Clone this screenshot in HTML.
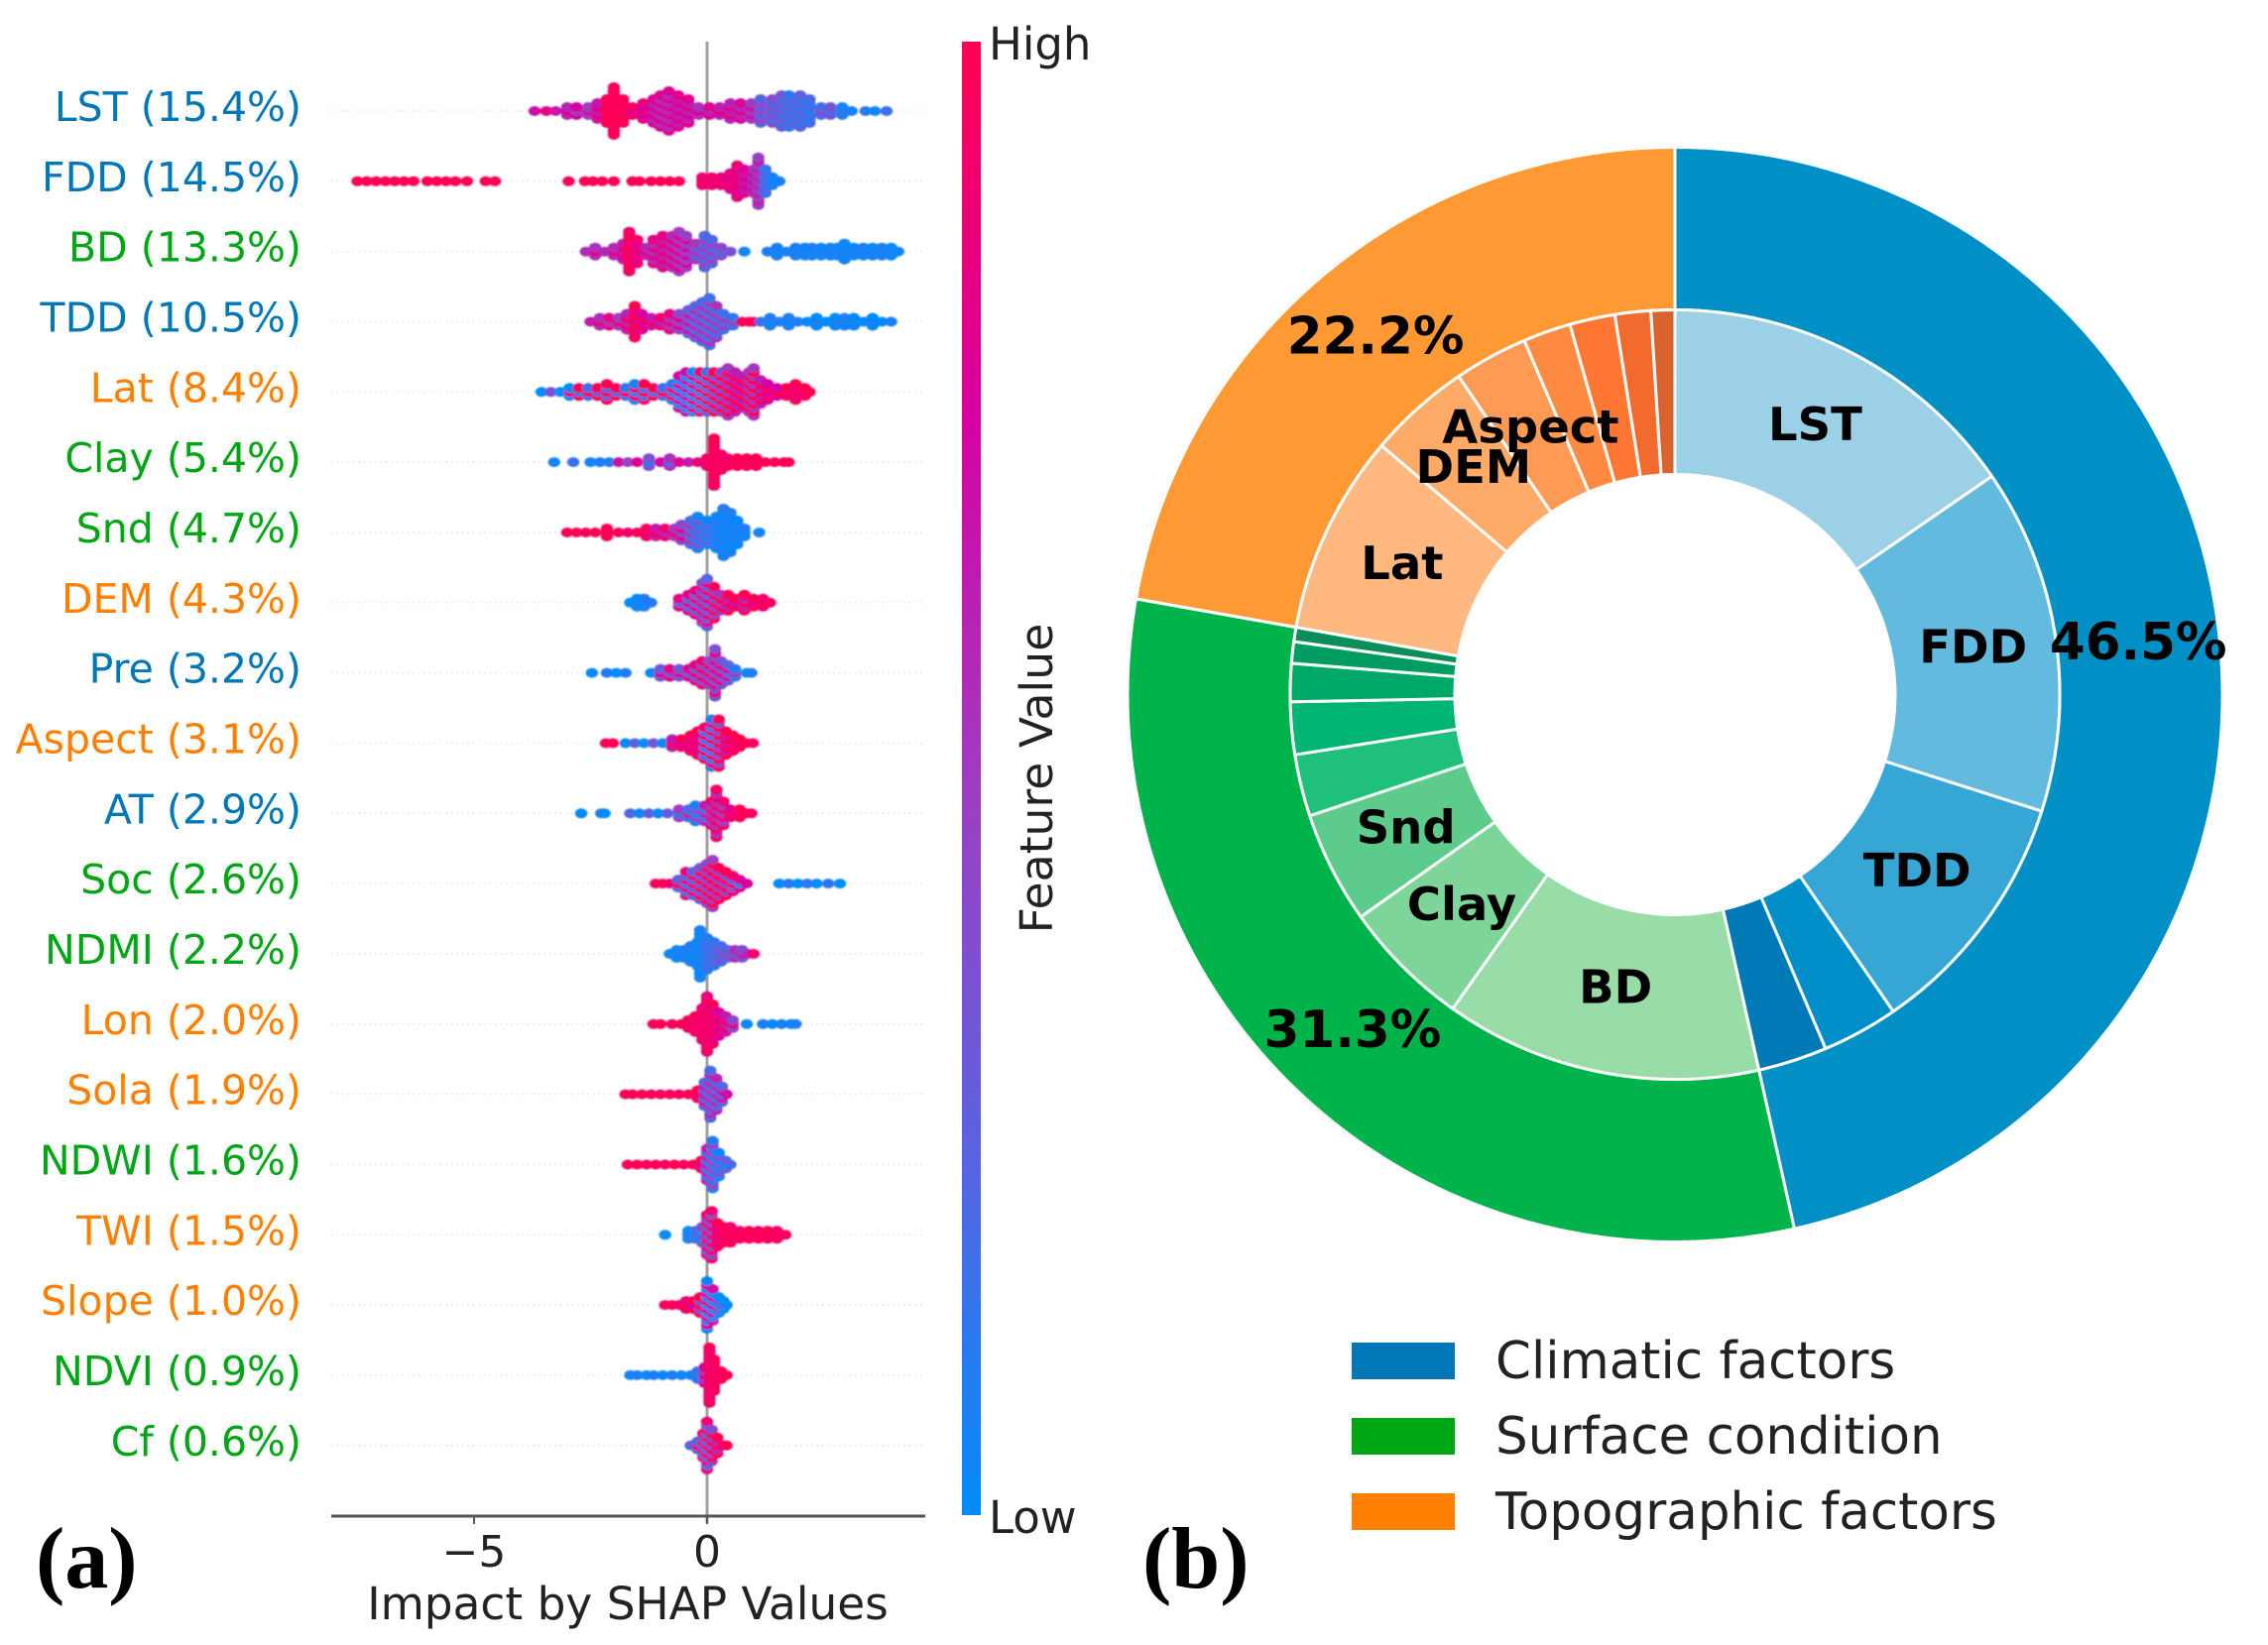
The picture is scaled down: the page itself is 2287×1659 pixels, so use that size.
<!DOCTYPE html>
<html lang="en">
<head>
<meta charset="utf-8">
<title>SHAP feature impact and factor share</title>
<style>
html,body{margin:0;padding:0;background:#fff;}
svg{display:block;}
text{font-family:"DejaVu Sans","Liberation Sans",sans-serif;}
.panel{font-family:"Liberation Serif",serif;font-weight:bold;font-size:88px;fill:#000;}
</style>
</head>
<body>
<svg id="figure" xmlns="http://www.w3.org/2000/svg" width="2287" height="1659" viewBox="0 0 2287 1659">
  <rect x="0" y="0" width="2287" height="1659" fill="#ffffff"/>
  <defs>
    <linearGradient id="cbGrad" x1="0" y1="1" x2="0" y2="0">
      <stop offset="0" stop-color="#008bfb"/>
      <stop offset="0.25" stop-color="#5a62e0"/>
      <stop offset="0.5" stop-color="#a03cc0"/>
      <stop offset="0.75" stop-color="#d800a0"/>
      <stop offset="1" stop-color="#ff0051"/>
    </linearGradient>
    <filter id="soft" x="-5%" y="-5%" width="110%" height="110%"><feGaussianBlur stdDeviation="0.7"/></filter>
  </defs>
  <g id="gridLayer"></g>
  <line x1="713" y1="42" x2="713" y2="1536" stroke="#a0a0a0" stroke-width="3"/>
  <g id="swarmLayer" filter="url(#soft)"></g>
  <g id="labelLayer"></g>
  <g id="axisLayer">
    <line x1="334" y1="1529" x2="933" y2="1529" stroke="#555555" stroke-width="3"/>
  </g>
  <text x="633" y="1633" text-anchor="middle" font-size="45.4" fill="#222">Impact by SHAP Values</text>
  <rect x="970" y="42" width="19" height="1486" fill="url(#cbGrad)"/>
  <text x="997" y="60" font-size="45" fill="#222">High</text>
  <text x="997" y="1546" font-size="45" fill="#222">Low</text>
  <text transform="translate(1061,785) rotate(-90)" text-anchor="middle" font-size="45.7" fill="#222">Feature Value</text>
  <text class="panel" x="36" y="1601">(a)</text>
  <text class="panel" x="1152" y="1601">(b)</text>
  <g id="donutLayer"></g>
  <g>
    <rect x="1363" y="1354" width="104" height="37" fill="#0077b6"/>
    <text x="1508" y="1390" font-size="51.5" fill="#222">Climatic factors</text>
    <rect x="1363" y="1430" width="104" height="37" fill="#00a614"/>
    <text x="1508" y="1466" font-size="51.5" fill="#222">Surface condition</text>
    <rect x="1363" y="1506" width="104" height="37" fill="#ff8000"/>
    <text x="1508" y="1542" font-size="51.5" fill="#222">Topographic factors</text>
  </g>
</svg>
<script>
// ---------- panel (a) data: per feature SHAP columns, stack depth and feature value tone ----------
const featureNames = ["LST","FDD","BD","TDD","Lat","Clay","Snd","DEM","Pre","Aspect","AT","Soc","NDMI","Lon","Sola","NDWI","TWI","Slope","NDVI","Cf"];
const featureShares = [15.4,14.5,13.3,10.5,8.4,5.4,4.7,4.3,3.2,3.1,2.9,2.6,2.2,2.0,1.9,1.6,1.5,1.0,0.9,0.6];
const featureGroups = ["c","c","s","c","t","s","s","t","c","t","c","s","s","t","t","s","t","t","s","s"];
const toneMix = [0.12,0.08,0.15,0.2,0.45,0.15,0.2,0.3,0.25,0.4,0.25,0.35,0.12,0.2,0.2,0.25,0.3,0.4,0.15,0.35];

const lstShap = [-3.7,-3.45,-3.25,-3,-2.8,-2.55,-2.35,-2.15,-2,-1.8,-1.6,-1.37,-1.15,-1,-0.82,-0.62,-0.4,-0.18,0.05,0.27,0.5,0.72,0.95,1.15,1.4,1.6,1.76,2,2.2,2.45,2.65,2.9,3.1,3.4,3.6,3.85];
const lstStack = [0,0,0,1,1,1,2,3,6,3,1,2,3,4,5,4,3,1,1,1,2,2,2,3,3,4,4,4,3,1,1,1,0,0,0,0];
const lstTone = [0.78,0.78,0.75,0.7,0.62,0.6,0.75,0.98,0.98,0.98,0.85,0.8,0.7,0.68,0.68,0.72,0.7,0.65,0.7,0.72,0.7,0.68,0.6,0.35,0.3,0.25,0.2,0.2,0.15,0.3,0.25,0.1,0.1,0.08,0.1,0.12];

const fddShap = [-7.5,-7.3,-7.1,-6.9,-6.7,-6.5,-6.3,-6,-5.8,-5.6,-5.4,-5.15,-4.75,-4.55,-2.97,-2.62,-2.45,-2.25,-2,-1.6,-1.45,-1.2,-1,-0.8,-0.6,-0.1,0.1,0.3,0.5,0.65,0.8,1,1.1,1.25,1.4,1.55];
const fddStack = [0,0,0,0,0,0,0,0,0,0,0,0,0,0,0,0,0,0,0,0,0,0,0,0,0,1,1,1,2,4,3,3,6,3,1,0];
const fddTone = [0.98,0.98,0.98,0.98,0.98,0.98,0.98,0.98,0.98,0.98,0.98,0.98,0.98,0.98,0.98,0.98,0.98,0.98,0.98,0.98,0.98,0.98,0.98,0.98,0.98,0.92,0.9,0.9,0.85,0.85,0.72,0.62,0.55,0.2,0.05,0.05];

const bdShap = [-2.6,-2.4,-2.2,-2,-1.8,-1.67,-1.5,-1.3,-1.15,-0.95,-0.75,-0.6,-0.45,-0.25,-0.05,0.1,0.3,0.5,0.8,1.3,1.5,1.7,1.9,2.1,2.25,2.45,2.65,2.8,2.95,3.15,3.35,3.55,3.75,3.95,4.1];
const bdStack = [0,1,0,1,2,5,3,1,3,4,4,5,4,2,4,3,1,0,0,0,1,0,1,1,1,1,1,1,2,1,1,1,1,1,0];
const bdTone = [0.7,0.68,0.7,0.7,0.75,0.95,0.85,0.7,0.7,0.75,0.7,0.65,0.6,0.4,0.35,0.35,0.3,0.25,0.05,0.05,0.05,0.05,0.05,0.05,0.05,0.05,0.05,0.05,0.05,0.05,0.05,0.05,0.05,0.05,0.05];

const tddShap = [-2.5,-2.3,-2.1,-1.9,-1.72,-1.55,-1.4,-1.2,-1,-0.8,-0.6,-0.4,-0.25,-0.1,0.05,0.2,0.35,0.55,0.75,0.9,1,1.15,1.35,1.55,1.75,1.95,2.15,2.35,2.55,2.75,2.95,3.15,3.35,3.55,3.75,3.95];
const tddStack = [0,1,1,1,2,4,2,1,1,2,2,3,4,5,6,4,2,1,0,0,0,0,1,0,1,0,0,1,0,1,1,1,0,1,0,0];
const tddTone = [0.78,0.72,0.68,0.68,0.75,0.95,0.85,0.8,0.75,0.7,0.6,0.45,0.4,0.38,0.35,0.35,0.35,0.3,0.98,0.98,0.98,0.1,0.05,0.05,0.05,0.05,0.05,0.05,0.05,0.05,0.05,0.05,0.05,0.05,0.05,0.05];

const latShap = [-3.55,-3.35,-3.15,-2.95,-2.75,-2.55,-2.35,-2.15,-1.95,-1.75,-1.55,-1.35,-1.15,-0.95,-0.75,-0.6,-0.45,-0.3,-0.15,0,0.15,0.3,0.45,0.6,0.75,0.9,1,1.15,1.3,1.5,1.7,1.9,2.1,2.2];
const latStack = [0,0,0,1,1,1,1,2,1,1,2,2,1,1,2,4,5,5,5,5,5,5,6,5,4,5,6,3,2,1,1,2,1,0];
const latTone = [0.1,0.15,0.3,0.45,0.55,0.6,0.65,0.62,0.6,0.55,0.5,0.55,0.6,0.6,0.55,0.35,0.3,0.4,0.5,0.6,0.7,0.75,0.8,0.85,0.85,0.8,0.8,0.85,0.9,0.9,0.95,0.95,0.95,0.98];

const clayShap = [-3.28,-2.87,-2.5,-2.3,-2.1,-1.9,-1.7,-1.5,-1.25,-1,-0.8,-0.6,-0.4,-0.2,0,0.15,0.3,0.45,0.65,0.85,1.05,1.25,1.45,1.65,1.75];
const clayStack = [0,0,0,0,0,0,0,0,1,0,1,0,0,0,1,6,2,1,1,1,1,0,0,0,0];
const clayTone = [0.05,0.1,0.05,0.05,0.15,0.55,0.6,0.65,0.25,0.6,0.4,0.7,0.75,0.8,0.9,0.96,0.96,0.95,0.97,0.97,0.97,0.97,0.98,0.98,0.98];

const sndShap = [-3,-2.8,-2.6,-2.4,-2.15,-1.9,-1.7,-1.5,-1.3,-1.1,-0.9,-0.7,-0.55,-0.35,-0.2,0,0.2,0.35,0.5,0.65,0.8,1.12];
const sndStack = [0,0,0,0,1,0,0,0,1,1,1,1,2,3,4,3,4,6,5,3,1,0];
const sndTone = [0.98,0.98,0.98,0.98,0.98,0.98,0.95,0.95,0.9,0.8,0.75,0.7,0.6,0.35,0.2,0.15,0.08,0.05,0.05,0.05,0.05,0.03];

const demShap = [-1.65,-1.5,-1.35,-1.2,-0.6,-0.4,-0.25,-0.1,0,0.15,0.3,0.45,0.6,0.8,1,1.2,1.35];
const demStack = [0,1,1,0,1,2,3,5,6,4,2,2,1,2,1,1,0];
const demTone = [0.05,0.05,0.05,0.05,0.55,0.5,0.55,0.6,0.55,0.7,0.75,0.8,0.85,0.8,0.9,0.95,0.98];

const preShap = [-2.47,-2.15,-1.95,-1.75,-1.2,-1,-0.8,-0.6,-0.4,-0.25,-0.1,0.05,0.17,0.3,0.45,0.6,0.85,0.95];
const preStack = [0,0,0,0,0,1,1,1,1,2,3,3,6,3,2,1,0,0];
const preTone = [0.05,0.05,0.05,0.05,0.05,0.55,0.6,0.55,0.55,0.6,0.65,0.65,0.6,0.6,0.5,0.3,0.08,0.05];

const aspectShap = [-2.17,-2.02,-1.75,-1.55,-1.35,-1.15,-0.95,-0.75,-0.55,-0.35,-0.2,-0.05,0.1,0.25,0.4,0.55,0.7,0.85,0.98];
const aspectStack = [0,0,0,0,0,0,0,1,1,2,3,4,6,6,3,2,1,0,0];
const aspectTone = [0.98,0.98,0.1,0.1,0.12,0.15,0.25,0.85,0.9,0.9,0.9,0.5,0.5,0.7,0.85,0.95,0.95,0.97,0.98];

const atShap = [-2.7,-2.27,-2.2,-1.65,-1.45,-1.25,-1.05,-0.85,-0.6,-0.4,-0.25,-0.05,0.1,0.2,0.35,0.5,0.7,0.85,0.95];
const atStack = [0,0,0,0,0,0,0,0,1,1,2,2,3,6,3,1,1,0,0];
const atTone = [0.05,0.05,0.05,0.12,0.15,0.15,0.12,0.15,0.3,0.4,0.25,0.4,0.7,0.75,0.7,0.9,0.95,0.97,0.98];

const socShap = [-1.1,-0.95,-0.8,-0.62,-0.45,-0.3,-0.15,0,0.12,0.25,0.4,0.55,0.7,0.85,1.55,1.75,1.95,2.15,2.35,2.6,2.85];
const socStack = [0,0,0,1,3,3,4,5,6,4,3,2,1,0,0,0,0,0,0,0,0];
const socTone = [0.98,0.98,0.95,0.6,0.5,0.55,0.65,0.7,0.75,0.75,0.7,0.6,0.45,0.4,0.05,0.05,0.05,0.05,0.05,0.05,0.05];

const ndmiShap = [-0.8,-0.65,-0.5,-0.35,-0.2,-0.15,0,0.15,0.3,0.45,0.6,0.75,0.9,1];
const ndmiStack = [0,1,1,2,3,6,4,3,2,1,1,1,0,0];
const ndmiTone = [0.05,0.05,0.05,0.05,0.05,0.04,0.15,0.2,0.3,0.35,0.45,0.5,0.7,0.85];

const lonShap = [-1.15,-1,-0.75,-0.55,-0.4,-0.25,-0.1,0,0.12,0.25,0.4,0.55,0.85,1.2,1.4,1.6,1.8,1.9];
const lonStack = [0,0,0,0,1,2,4,7,5,3,2,1,0,0,0,0,0,0];
const lonTone = [0.97,0.97,0.97,0.95,0.95,0.93,0.92,0.93,0.9,0.85,0.8,0.6,0.08,0.05,0.05,0.05,0.05,0.05];

const solaShap = [-1.75,-1.6,-1.4,-1.2,-1,-0.8,-0.6,-0.4,-0.2,-0.05,0.07,0.2,0.32,0.42];
const solaStack = [0,0,0,0,0,0,0,0,1,3,6,4,2,0];
const solaTone = [0.98,0.98,0.98,0.97,0.97,0.97,0.97,0.97,0.95,0.45,0.4,0.4,0.45,0.5];

const ndwiShap = [-1.7,-1.5,-1.3,-1.1,-0.9,-0.7,-0.5,-0.3,-0.12,0,0.12,0.25,0.4,0.5];
const ndwiStack = [0,0,0,0,0,0,0,0,1,4,6,3,1,0];
const ndwiTone = [0.98,0.98,0.97,0.97,0.97,0.97,0.97,0.95,0.85,0.4,0.3,0.2,0.15,0.1];

const twiShap = [-0.9,-0.4,-0.25,-0.1,0,0.1,0.22,0.35,0.5,0.7,0.9,1.1,1.3,1.5,1.68];
const twiStack = [0,1,1,2,5,6,3,2,2,1,1,1,1,1,0];
const twiTone = [0.05,0.08,0.1,0.2,0.6,0.65,0.9,0.95,0.97,0.97,0.97,0.97,0.97,0.97,0.98];

const slopeShap = [-0.9,-0.75,-0.6,-0.45,-0.3,-0.15,0,0.12,0.25,0.35,0.42];
const slopeStack = [0,0,0,1,1,2,6,4,2,1,0];
const slopeTone = [0.98,0.97,0.97,0.95,0.9,0.7,0.4,0.35,0.2,0.15,0.1];

const ndviShap = [-1.65,-1.5,-1.3,-1.15,-0.95,-0.75,-0.55,-0.35,-0.2,-0.05,0.05,0.15,0.3,0.42];
const ndviStack = [0,0,0,0,0,0,0,0,1,2,7,4,1,0];
const ndviTone = [0.05,0.05,0.05,0.05,0.05,0.05,0.05,0.05,0.1,0.6,0.92,0.95,0.95,0.97];

const cfShap = [-0.35,-0.2,-0.08,0,0.1,0.22,0.35,0.42];
const cfStack = [0,1,3,6,4,2,0,0];
const cfTone = [0.6,0.55,0.6,0.55,0.7,0.8,0.95,0.97];

const rowShap = [lstShap,fddShap,bdShap,tddShap,latShap,clayShap,sndShap,demShap,preShap,aspectShap,atShap,socShap,ndmiShap,lonShap,solaShap,ndwiShap,twiShap,slopeShap,ndviShap,cfShap];
const rowStack = [lstStack,fddStack,bdStack,tddStack,latStack,clayStack,sndStack,demStack,preStack,aspectStack,atStack,socStack,ndmiStack,lonStack,solaStack,ndwiStack,twiStack,slopeStack,ndviStack,cfStack];
const rowTone = [lstTone,fddTone,bdTone,tddTone,latTone,clayTone,sndTone,demTone,preTone,aspectTone,atTone,socTone,ndmiTone,lonTone,solaTone,ndwiTone,twiTone,slopeTone,ndviTone,cfTone];

const xTickValues = [-5,0];
const xTickLabels = ["\u22125","0"];

// ---------- panel (b) data ----------
const outerNames = ["Climatic","Surface","Topographic"];
const outerShares = [46.5,31.3,22.2];
const outerColors = ["#0090c6","#00b34a","#ff9933"];
const innerNames = ["LST","FDD","TDD","Pre","AT","BD","Clay","Snd","Soc","NDMI","NDWI","NDVI","Cf","Lat","DEM","Aspect","Lon","Sola","TWI","Slope"];
const innerShares = [15.4,14.5,10.5,3.2,2.9,13.3,5.4,4.7,2.6,2.2,1.6,0.9,0.6,8.4,4.3,3.1,2.0,1.9,1.5,1.0];
const innerColors = ["#9bd0e6","#62bade","#36a6d4","#008ec8","#0079b7","#98dca8","#7dd59a","#5ccb8c","#1fc07c","#00b574","#00a868","#009c60","#0a8f5a","#ffb880","#ffaa66","#ff9a55","#ff8a42","#ff7733","#f26a2e","#d9622e"];
const innerLabelled = ["LST","FDD","TDD","BD","Clay","Snd","Lat","DEM","Aspect"];

// ---------- scales ----------
const NS = "http://www.w3.org/2000/svg";
function xScale(v){ return 713 + 47 * v; }
function rowY(i){ return 112 + 70.83 * i; }
const toneStops = [[0,[0,139,251]],[0.25,[90,98,224]],[0.5,[160,60,192]],[0.75,[216,0,160]],[1,[255,0,81]]];
function toneColor(t){
  t = Math.max(0, Math.min(1, t));
  for (let k = 1; k < toneStops.length; k++) {
    if (t <= toneStops[k][0]) {
      const a = toneStops[k-1], b = toneStops[k];
      const f = (t - a[0]) / (b[0] - a[0]);
      const c = a[1].map((q, j) => Math.round(q + (b[1][j] - q) * f));
      return "rgb(" + c.join(",") + ")";
    }
  }
  return "rgb(255,0,81)";
}
const groupColor = { c: "#0077b6", s: "#00a614", t: "#ff8000" };

// ---------- draw panel (a) ----------
const gridLayer = document.getElementById("gridLayer");
const swarmLayer = document.getElementById("swarmLayer");
const labelLayer = document.getElementById("labelLayer");
const axisLayer = document.getElementById("axisLayer");

featureNames.forEach(function (name, i) {
  const y = rowY(i);
  const grid = document.createElementNS(NS, "line");
  
  
  grid.setAttribute("x1", 334);
  grid.setAttribute("x2", 930);
  grid.setAttribute("y1", y);
  grid.setAttribute("y2", y);
  grid.setAttribute("stroke", "#e4e4e4");
  grid.setAttribute("stroke-width", "1.5");
  grid.setAttribute("stroke-dasharray", "1.5 4");
  gridLayer.appendChild(grid);

  const label = document.createElementNS(NS, "text");
  
  
  label.setAttribute("x", 304);
  label.setAttribute("y", y + 10);
  label.setAttribute("text-anchor", "end");
  label.setAttribute("font-size", "41");
  label.setAttribute("fill", groupColor[featureGroups[i]]);
  label.textContent = name + " (" + featureShares[i].toFixed(1) + "%)";
  labelLayer.appendChild(label);

  const group = document.createElementNS(NS, "g");
  
  
  const shap = rowShap[i], stack = rowStack[i], tone = rowTone[i], mix = toneMix[i];
  shap.forEach(function (v, c) {
    const n = stack[c];
    const t = tone[c];
    const localMix = mix * Math.min(1, 4 * t * (1 - t));
    for (let l = n; l >= -n; l--) {
      const dot = document.createElementNS(NS, "ellipse");
      
      
      const odd = (Math.abs(l) + c) % 2 === 1;
      dot.setAttribute("cx", xScale(v).toFixed(1));
      dot.setAttribute("cy", (y + l * 4).toFixed(1));
      dot.setAttribute("rx", "6.2");
      dot.setAttribute("ry", "5");
      dot.setAttribute("fill", toneColor(t + (odd ? localMix : -localMix)));
      group.appendChild(dot);
    }
  });
  swarmLayer.appendChild(group);
});

xTickValues.forEach(function (v, i) {
  const tick = document.createElementNS(NS, "line");
  
  
  tick.setAttribute("x1", xScale(v));
  tick.setAttribute("x2", xScale(v));
  tick.setAttribute("y1", 1529);
  tick.setAttribute("y2", 1537);
  tick.setAttribute("stroke", "#555555");
  tick.setAttribute("stroke-width", "2");
  axisLayer.appendChild(tick);
  const tl = document.createElementNS(NS, "text");
  
  
  tl.setAttribute("x", xScale(v));
  tl.setAttribute("y", 1580);
  tl.setAttribute("text-anchor", "middle");
  tl.setAttribute("font-size", "44");
  tl.setAttribute("fill", "#222");
  tl.textContent = xTickLabels[i];
  axisLayer.appendChild(tl);
});

// ---------- draw panel (b) ----------
const donutLayer = document.getElementById("donutLayer");
const CX = 1689, CY = 700.5, R_OUT = 552, R_MID = 388, R_IN = 222;
function polar(r, pct){
  const a = pct / 100 * 2 * Math.PI;
  return [CX + r * Math.sin(a), CY - r * Math.cos(a)];
}
function wedge(r0, r1, p0, p1){
  const large = (p1 - p0) > 50 ? 1 : 0;
  const a = polar(r1, p0), b = polar(r1, p1), c = polar(r0, p1), d = polar(r0, p0);
  return "M" + a[0].toFixed(2) + " " + a[1].toFixed(2) +
    "A" + r1 + " " + r1 + " 0 " + large + " 1 " + b[0].toFixed(2) + " " + b[1].toFixed(2) +
    "L" + c[0].toFixed(2) + " " + c[1].toFixed(2) +
    "A" + r0 + " " + r0 + " 0 " + large + " 0 " + d[0].toFixed(2) + " " + d[1].toFixed(2) + "Z";
}
function ringLabel(txt, r, pct, size, shift, name){
  const p = polar(r, pct);
  const t = document.createElementNS(NS, "text");
  
  
  t.setAttribute("x", p[0].toFixed(1));
  t.setAttribute("y", (p[1] + size * 0.36 + shift).toFixed(1));
  t.setAttribute("text-anchor", "middle");
  t.setAttribute("font-size", size);
  t.setAttribute("font-weight", "bold");
  t.setAttribute("fill", "#000");
  t.textContent = txt;
  return t;
}
let outerStart = 0;
const labelQueue = [];
outerShares.forEach(function (s, i) {
  const path = document.createElementNS(NS, "path");
  
  
  path.setAttribute("d", wedge(R_MID, R_OUT, outerStart, outerStart + s));
  path.setAttribute("fill", outerColors[i]);
  path.setAttribute("stroke", "#ffffff");
  path.setAttribute("stroke-width", "3");
  donutLayer.appendChild(path);
  labelQueue.push(ringLabel(s.toFixed(1) + "%", 470, outerStart + s / 2, 51.5, -2.5, "outer-percent-label"));
  outerStart += s;
});
let innerStart = 0;
innerShares.forEach(function (s, i) {
  const path = document.createElementNS(NS, "path");
  
  
  path.setAttribute("d", wedge(R_IN, R_MID, innerStart, innerStart + s));
  path.setAttribute("fill", innerColors[i]);
  path.setAttribute("stroke", "#ffffff");
  path.setAttribute("stroke-width", "3");
  donutLayer.appendChild(path);
  if (innerLabelled.indexOf(innerNames[i]) >= 0) {
    labelQueue.push(ringLabel(innerNames[i], 304, innerStart + s / 2, 46.5, -4, "inner-wedge-label"));
  }
  innerStart += s;
});
labelQueue.forEach(function (t) { donutLayer.appendChild(t); });
</script>
</body>
</html>
